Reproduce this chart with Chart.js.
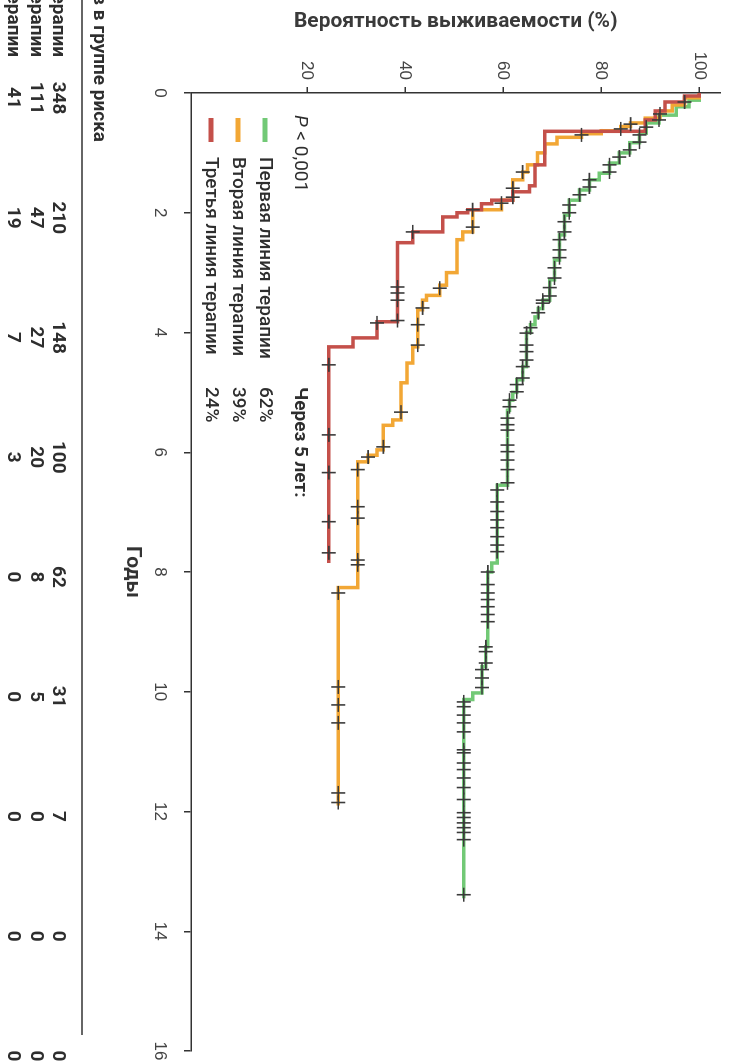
<!DOCTYPE html>
<html lang="ru">
<head>
<meta charset="UTF-8">
<title>Выживаемость по линиям терапии</title>
<script src="https://cdn.jsdelivr.net/npm/chart.js@4"></script>
<style>
  html, body { margin: 0; padding: 0; background: #fff; overflow: hidden; }
  /* chart is drawn upright and then turned a quarter turn clockwise */
  #wrap {
    position: absolute; left: 0; top: 0;
    width: 1063px; height: 729px;
    transform-origin: 0 0;
    transform: translate(729px, 0) rotate(90deg);
  }
</style>
</head>
<body>
<div id="wrap"><canvas id="km" width="1063" height="729"></canvas></div>

<script>
  // ---- data ----
  const yearTicks = [0, 2, 4, 6, 8, 10, 12, 14, 16];
  const survTicks = [20, 40, 60, 80, 100];
  const groups = ['Первая линия терапии', 'Вторая линия терапии', 'Третья линия терапии'];
  const fiveYear = ['62%', '39%', '24%'];

  // numbers at risk at each year tick
  const atRisk1 = [348, 210, 148, 100, 62, 31, 7, 0, 0];
  const atRisk2 = [111, 47, 27, 20, 8, 5, 0, 0, 0];
  const atRisk3 = [41, 19, 7, 3, 0, 0, 0, 0, 0];

  // first line (green)
  const line1Time = [0, 0.12, 0.23, 0.37, 0.5, 0.67, 0.83, 1.0, 1.17, 1.34, 1.45, 1.62, 1.79, 2.04, 2.37, 2.79, 3.12, 3.46, 3.6, 3.74, 3.87, 4.0, 4.57, 4.79, 5.0, 5.13, 5.3, 6.55, 7.85, 8.0, 9.25, 9.58, 10.02, 10.13, 13.45];
  const line1Surv = [100, 97.9, 95.3, 91.8, 89.2, 87.8, 85.8, 83.7, 81.7, 79.6, 77.6, 75.6, 73.5, 72.5, 71.5, 70.5, 69.5, 68.1, 67.2, 66.5, 65.6, 64.8, 64.0, 62.8, 62.0, 61.3, 60.9, 58.8, 57.7, 56.9, 56.5, 55.7, 53.8, 52.0, 52.0];
  const line1Cens = [0.45, 0.57, 0.7, 0.82, 0.95, 1.07, 1.2, 1.32, 1.45, 1.57, 1.7, 1.87, 2.0, 2.15, 2.32, 2.45, 2.62, 2.75, 2.92, 3.09, 3.25, 3.39, 3.46, 3.51, 3.67, 3.92, 4.01, 4.21, 4.32, 4.46, 4.57, 4.76, 4.87, 4.99, 5.13, 5.24, 5.43, 5.54, 5.63, 5.88, 5.99, 6.13, 6.29, 6.51, 6.63, 6.83, 6.99, 7.13, 7.26, 7.41, 7.55, 7.66, 8.0, 8.21, 8.35, 8.46, 8.58, 8.71, 8.83, 9.25, 9.33, 9.52, 9.63, 9.77, 9.93, 10.17, 10.25, 10.39, 10.52, 10.67, 10.97, 11.02, 11.19, 11.3, 11.44, 11.6, 11.8, 12.02, 12.1, 12.19, 12.27, 12.35, 12.47, 13.39];

  // second line (orange)
  const line2Time = [0, 0.08, 0.2, 0.3, 0.42, 0.5, 0.56, 0.63, 0.68, 0.74, 0.85, 1.0, 1.2, 1.32, 1.45, 1.79, 1.95, 2.32, 2.45, 3.0, 3.21, 3.38, 3.46, 3.62, 4.24, 4.51, 4.84, 5.46, 5.55, 5.96, 6.05, 6.16, 8.26, 11.9];
  const line2Surv = [100, 97, 94.5, 92, 89, 86, 84, 80, 76, 71, 68.5, 67, 65, 64.0, 62.0, 59.7, 53.8, 51.8, 50.6, 48.5, 47.1, 44.4, 43.6, 42.6, 41.6, 40.4, 39.2, 37.5, 35.6, 34.3, 32.5, 30.4, 26.4, 26.4];
  const line2Cens = [0.15, 0.35, 0.52, 0.6, 0.7, 1.32, 1.59, 1.74, 1.84, 1.95, 2.24, 3.26, 3.59, 3.87, 4.21, 5.33, 5.91, 6.08, 6.29, 6.91, 7.1, 7.8, 7.88, 8.35, 9.92, 10.22, 10.52, 11.69, 11.85];

  // third line (red)
  const line3Time = [0, 0.05, 0.15, 0.3, 0.45, 0.64, 1.2, 1.55, 1.65, 1.79, 1.85, 1.95, 2.0, 2.07, 2.32, 2.5, 3.82, 4.09, 4.24, 7.85];
  const line3Surv = [100, 97, 93, 91, 89, 68.5, 66.5, 65.4, 62.0, 57.7, 55.6, 52.8, 50.6, 47.7, 41.6, 38.5, 34.3, 29.4, 24.5, 24.5];
  const line3Cens = [2.32, 3.24, 3.34, 3.46, 3.8, 3.84, 4.54, 5.71, 6.34, 7.16, 7.68];

  const colors = ['#72c976', '#f2a735', '#c4504a'];
  const FONT = "Roboto, 'Liberation Sans', sans-serif";
  const TICKFONT = "'Liberation Sans', Arial, sans-serif";

  // survival of a step curve at time t (for placing censor marks on the line)
  function survAt(times, survs, t) {
    let s = survs[0];
    for (let i = 0; i < times.length; i++) {
      if (times[i] <= t) s = survs[i];
    }
    return s;
  }

  function stepSet(times, survs, color, order) {
    return {
      type: 'line',
      data: times.map((t, i) => ({ x: t, y: survs[i] })),
      borderColor: color,
      borderWidth: 3.5,
      stepped: true,
      pointRadius: 0,
      fill: false,
      order: order
    };
  }

  function censorSet(cens, times, survs) {
    return {
      type: 'scatter',
      data: cens.map(t => ({ x: t, y: survAt(times, survs, t) })),
      pointStyle: 'cross',
      pointRadius: 7,
      pointBorderWidth: 1.6,
      borderColor: '#3b3b3b',
      backgroundColor: '#3b3b3b',
      order: 0
    };
  }

  // legend inside the plot + risk table under the axis
  const annotations = {
    id: 'annotations',
    afterDraw(chart) {
      const ctx = chart.ctx;
      const x = chart.scales.x;
      const area = chart.chartArea;
      ctx.save();
      ctx.textBaseline = 'middle';
      ctx.fillStyle = '#2e2e2e';

      // legend
      const lx = area.left + 22;
      const ly = area.bottom - 109;
      ctx.font = 'italic 19px ' + FONT;
      ctx.textAlign = 'left';
      ctx.fillText('P', lx, ly);
      const pw = ctx.measureText('P').width;
      ctx.font = '19px ' + FONT;
      ctx.fillText(' < 0,001', lx + pw, ly);
      ctx.font = 'bold 19px ' + FONT;
      ctx.fillText('Через 5 лет:', area.left + 294, ly);

      groups.forEach((g, i) => {
        const yy = ly + 35 + i * 27;
        ctx.strokeStyle = colors[i];
        ctx.lineWidth = 5;
        ctx.beginPath();
        ctx.moveTo(lx + 3, yy);
        ctx.lineTo(lx + 27, yy);
        ctx.stroke();
        ctx.font = '500 19px ' + FONT;
        ctx.fillText(g, lx + 42, yy);
        ctx.fillText(fiveYear[i], area.left + 294, yy);
      });

      // numbers at risk
      ctx.font = 'bold 19px ' + FONT;
      ctx.textAlign = 'right';
      ctx.fillText('Число пациентов в группе риска', 142, area.bottom + 92);
      ctx.strokeStyle = '#333';
      ctx.lineWidth = 1.5;
      ctx.beginPath();
      ctx.moveTo(0, area.bottom + 109);
      ctx.lineTo(1035, area.bottom + 109);
      ctx.stroke();

      [atRisk1, atRisk2, atRisk3].forEach((row, r) => {
        const yy = area.bottom + 133 + r * 22.5;
        ctx.textAlign = 'right';
        ctx.fillText(groups[r], 57, yy);
        ctx.textAlign = 'center';
        row.forEach((n, i) => {
          ctx.fillText(String(n), x.getPixelForValue(yearTicks[i]) + 5, yy);
        });
      });
      ctx.restore();
    }
  };

  new Chart(document.getElementById('km'), {
    type: 'line',
    data: {
      datasets: [
        censorSet(line1Cens, line1Time, line1Surv),
        censorSet(line2Cens, line2Time, line2Surv),
        censorSet(line3Cens, line3Time, line3Surv),
        stepSet(line3Time, line3Surv, colors[2], 1),
        stepSet(line2Time, line2Surv, colors[1], 2),
        stepSet(line1Time, line1Surv, colors[0], 3)
      ]
    },
    options: {
      responsive: false,
      animation: false,
      layout: { padding: { left: 0, top: 8, right: 12, bottom: 120 } },
      plugins: { legend: { display: false }, tooltip: { enabled: false } },
      scales: {
        x: {
          type: 'linear',
          min: 0,
          max: 16,
          afterBuildTicks: s => { s.ticks = yearTicks.map(v => ({ value: v })); },
          afterFit: s => { s.height = 71; s.paddingLeft = 0; s.paddingRight = 0; },
          grid: { drawOnChartArea: false, drawTicks: true, tickLength: 7, color: '#333', lineWidth: 1.5 },
          border: { display: true, color: '#333', width: 1.5 },
          ticks: { color: '#444', font: { family: TICKFONT, size: 17 }, padding: 14, maxRotation: 0, autoSkip: false },
          title: { display: true, text: 'Годы', color: '#333', font: { family: FONT, size: 21, weight: 'bold' }, padding: 0 }
        },
        y: {
          min: -3.6,
          max: 104.3,
          afterBuildTicks: s => { s.ticks = survTicks.map(v => ({ value: v })); },
          afterFit: s => { s.width = 93; s.paddingTop = 0; s.paddingBottom = 0; },
          grid: { drawOnChartArea: false, drawTicks: true, tickLength: 6, color: '#333', lineWidth: 1.5 },
          border: { display: true, color: '#333', width: 1.5 },
          ticks: { color: '#444', font: { family: TICKFONT, size: 17 }, padding: 7 },
          title: { display: true, text: 'Вероятность выживаемости (%)', color: '#3a3a3a', font: { family: FONT, size: 21, weight: 'bold' }, padding: { top: 9, bottom: 0 } }
        }
      }
    },
    plugins: [annotations]
  });
</script>
</body>
</html>
